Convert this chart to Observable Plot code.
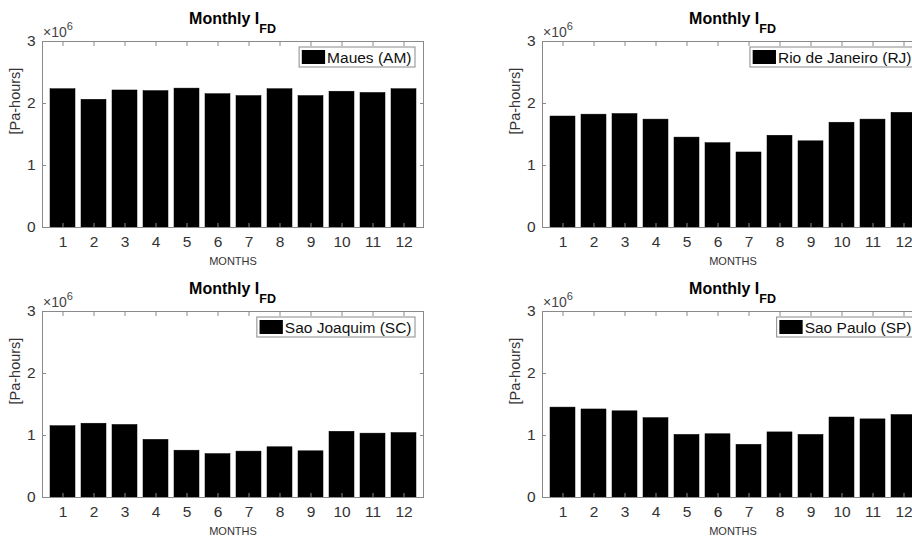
<!DOCTYPE html>
<html>
<head>
<meta charset="utf-8">
<script src="https://cdn.jsdelivr.net/npm/d3@7"></script>
<script src="https://cdn.jsdelivr.net/npm/@observablehq/plot@0.6"></script>
<style>
  body { margin: 0; background: #fff; }
  #wrap { position: relative; width: 912px; height: 539px; overflow: hidden; background: #fff; }
  .panel { position: absolute; width: 470px; height: 270px; }
  .panel svg { max-width: none !important; }
</style>
</head>
<body>
<div id="wrap"></div>
<script>
// ---- data ----
const months = [1, 2, 3, 4, 5, 6, 7, 8, 9, 10, 11, 12];
const maues      = [2230000, 2060000, 2210000, 2200000, 2240000, 2150000, 2120000, 2230000, 2120000, 2190000, 2170000, 2230000];
const rio        = [1790000, 1820000, 1830000, 1740000, 1450000, 1360000, 1210000, 1480000, 1390000, 1690000, 1740000, 1850000];
const saoJoaquim = [1150000, 1190000, 1170000, 930000, 755000, 700000, 740000, 810000, 745000, 1060000, 1030000, 1040000];
const saoPaulo   = [1450000, 1420000, 1390000, 1280000, 1010000, 1020000, 850000, 1050000, 1010000, 1290000, 1260000, 1330000];
const stations = ["Maues (AM)", "Rio de Janeiro (RJ)", "Sao Joaquim (SC)", "Sao Paulo (SP)"];
const yTicks = [0, 1000000, 2000000, 3000000];
const titleMain = "Monthly I";
const titleSub = "FD";
const xLabel = "MONTHS";
const yLabel = "[Pa-hours]";
const exponentBase = "×10";
const exponent = "6";

// ---- layout / style ----
const FONT = "'Liberation Sans', Arial, Helvetica, sans-serif";
const BOX = "#8a8a8a";
const TXT = "#333";
const W = 470, H = 270, ML = 42, MR = 47, MT = 41, MB = 43;
const wrap = document.getElementById("wrap");

function panel(values, station, left, top) {
  const data = months.map((m, i) => ({month: m, value: values[i]}));
  const svg = Plot.plot({
    width: W, height: H,
    marginLeft: ML, marginRight: MR, marginTop: MT, marginBottom: MB,
    style: {fontFamily: FONT, fontSize: "15.5px", color: TXT, background: "transparent", overflow: "visible", maxWidth: "none"},
    x: {type: "band", domain: months, paddingInner: 0.2, paddingOuter: 0.1},
    y: {domain: [0, 3000000]},
    marks: [
      Plot.barY(data, {x: "month", y: "value", fill: "#000", stroke: "#000", strokeWidth: 0.5}),
      Plot.frame({stroke: BOX}),
      Plot.axisX({anchor: "bottom", tickSize: 0, tickPadding: 8, label: null, fill: TXT}),
      Plot.axisX({anchor: "bottom", tickSize: -4, tickFormat: () => "", stroke: BOX, label: null}),
      Plot.axisX({anchor: "top", tickSize: -4, tickFormat: () => "", stroke: BOX, label: null}),
      Plot.axisY({anchor: "left", ticks: yTicks, tickSize: 0, tickPadding: 7, tickFormat: d => d / 1000000, label: null, fill: TXT}),
      Plot.axisY({anchor: "left", ticks: yTicks, tickSize: -4, tickFormat: () => "", stroke: BOX, label: null}),
      Plot.axisY({anchor: "right", ticks: yTicks, tickSize: -4, tickFormat: () => "", stroke: BOX, label: null}),
      Plot.text([xLabel], {text: d => d, frameAnchor: "bottom", dy: 37, fontSize: 11, fill: TXT}),
      Plot.text([yLabel], {text: d => d, frameAnchor: "left", dx: -27, rotate: -90, fontSize: 14.5, fill: TXT})
    ]
  });
  svg.style.maxWidth = "none";
  const div = document.createElement("div");
  div.className = "panel";
  div.style.left = left + "px";
  div.style.top = top + "px";
  div.appendChild(svg);
  wrap.appendChild(div);

  const s = d3.select(svg);
  const innerW = W - ML - MR;
  // title with subscript
  const t = s.append("text")
    .attr("x", ML + innerW / 2).attr("y", 24)
    .attr("text-anchor", "middle")
    .attr("font-family", FONT).attr("font-weight", "bold").attr("font-size", 16).attr("fill", "#000");
  t.append("tspan").text(titleMain);
  t.append("tspan").attr("dy", 9).attr("font-size", 12.5).text(titleSub);
  // exponent label
  const e = s.append("text")
    .attr("x", ML + 1).attr("y", 37)
    .attr("text-anchor", "start")
    .attr("font-family", FONT).attr("font-size", 14).attr("fill", "#444");
  e.append("tspan").text(exponentBase);
  e.append("tspan").attr("dy", -7).attr("font-size", 11).text(exponent);
  // legend
  const g = s.append("g");
  const boxTop = MT + 6, boxH = 20;
  const txt = g.append("text")
    .attr("text-anchor", "start")
    .attr("font-family", FONT).attr("font-size", 15.5).attr("fill", "#111")
    .attr("y", boxTop + boxH / 2 + 5.5)
    .text(station);
  const tw = txt.node().getComputedTextLength();
  const boxW = 2.7 + 23.3 + 2 + tw + 3.5;
  const boxRight = ML + innerW - 8;
  const boxLeft = boxRight - boxW;
  g.insert("rect", "text")
    .attr("x", boxLeft).attr("y", boxTop).attr("width", boxW).attr("height", boxH)
    .attr("fill", "#fff").attr("stroke", BOX).attr("stroke-width", 1);
  g.insert("rect", "text")
    .attr("x", boxLeft + 2.7).attr("y", boxTop + 3).attr("width", 23.3).attr("height", 14)
    .attr("fill", "#000");
  txt.attr("x", boxLeft + 2.7 + 23.3 + 2);
}

panel(maues, stations[0], 0, 0);
panel(rio, stations[1], 500, 0);
panel(saoJoaquim, stations[2], 0, 270);
panel(saoPaulo, stations[3], 500, 270);
</script>
</body>
</html>
